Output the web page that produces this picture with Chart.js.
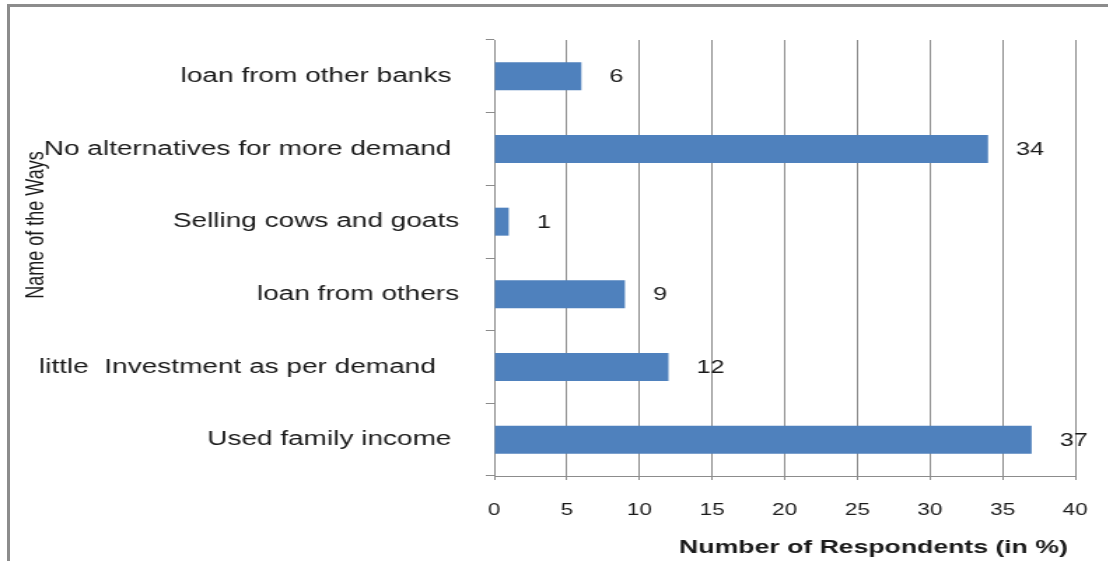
<!DOCTYPE html>
<html>
<head>
<meta charset="utf-8">
<script src="https://cdn.jsdelivr.net/npm/chart.js@4"></script>
<style>
  html, body { margin: 0; padding: 0; background: #fff; overflow: hidden; }
  #wrap { position: absolute; left: 0; top: 0; width: 1108px; height: 561px; overflow: hidden; }
  /* drawn narrow, then widened so the lettering comes out broad */
  #chart { position: absolute; left: 0; top: 0; transform-origin: 0 0; transform: scaleX(1.4); }
  #frame { position: absolute; left: 7px; top: 4px; width: 1200px; height: 700px; border: 3px solid #8c8c8c; pointer-events: none; }
</style>
</head>
<body>
<div id="wrap">
  <canvas id="chart" width="792" height="561"></canvas>
  <div id="frame"></div>
</div>
<script>
// Ways used to meet the extra demand (trailing spaces keep the old label offsets)
const ways = [
    'loan from other banks ',
    'No alternatives for more demand ',
    'Selling cows and goats',
    'loan from others',
    'little  Investment as per demand   ',
    'Used family income '
];
const respondents = [6, 34, 1, 9, 12, 37];
const xTicks = [0, 5, 10, 15, 20, 25, 30, 35, 40];

const FONT = '"Liberation Sans", Arial, sans-serif';
const INK = '#1a1a1a';
const GRID = '#8c8c8c';

// Numbers printed to the right of each bar
const valueLabels = {
    id: 'valueLabels',
    afterDatasetsDraw(chart) {
        const ctx = chart.ctx;
        const meta = chart.getDatasetMeta(0);
        ctx.save();
        ctx.font = '18px ' + FONT;
        ctx.fillStyle = INK;
        ctx.textAlign = 'left';
        ctx.textBaseline = 'middle';
        meta.data.forEach((bar, i) => {
            ctx.fillText(String(respondents[i]), bar.x + 20, bar.y + 1);
        });
        ctx.restore();
    }
};

// Rotated title on the left side
const sideTitle = {
    id: 'sideTitle',
    afterDraw(chart) {
        const ctx = chart.ctx;
        ctx.save();
        ctx.translate(26, 225);
        ctx.rotate(-Math.PI / 2);
        ctx.font = '18px ' + FONT;
        ctx.fillStyle = INK;
        ctx.textAlign = 'center';
        ctx.textBaseline = 'middle';
        ctx.fillText('Name of the Ways', 0, 0);
        ctx.restore();
    }
};

new Chart(document.getElementById('chart'), {
    type: 'bar',
    data: {
        labels: ways,
        datasets: [{
            data: respondents,
            backgroundColor: '#4F81BD',
            borderWidth: 0,
            barPercentage: 0.385,
            categoryPercentage: 1
        }]
    },
    options: {
        indexAxis: 'y',
        responsive: false,
        animation: false,
        layout: { padding: { top: 40, right: 24, left: 0, bottom: 0 } },
        plugins: {
            legend: { display: false },
            tooltip: { enabled: false }
        },
        scales: {
            y: {
                offset: true,
                grid: { offset: true, drawOnChartArea: false, drawTicks: true, tickLength: 6, color: GRID },
                border: { display: true, color: GRID, width: 1 },
                ticks: { font: { family: FONT, size: 20 }, color: INK, padding: 19, autoSkip: false },
                afterFit(scale) { scale.width = 353; }
            },
            x: {
                min: xTicks[0],
                max: xTicks[xTicks.length - 1],
                grid: { color: GRID, tickLength: 4, lineWidth: 1 },
                border: { display: true, color: GRID, width: 1 },
                ticks: {
                    stepSize: xTicks[1] - xTicks[0],
                    font: { family: FONT, size: 16 },
                    color: INK,
                    padding: 21,
                    maxRotation: 0
                },
                title: {
                    display: true,
                    text: 'Number of Respondents (in %) ',
                    align: 'end',
                    font: { family: FONT, size: 19, weight: 'bold' },
                    color: INK,
                    padding: { top: 0, bottom: 2 }
                },
                afterFit(scale) {
                    scale.height = 85;
                    scale.paddingLeft = 0;
                    scale.paddingRight = 0;
                }
            }
        }
    },
    plugins: [valueLabels, sideTitle]
});
</script>
</body>
</html>
